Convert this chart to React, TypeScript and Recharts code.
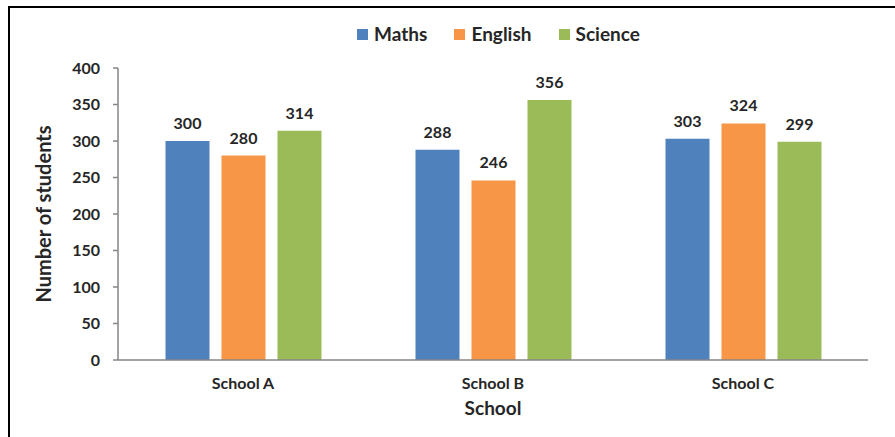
import { Bar, BarChart, LabelList, Legend, XAxis, YAxis } from "recharts";

const schools = ["School A", "School B", "School C"];
const maths = [300, 288, 303];
const english = [280, 246, 324];
const science = [314, 356, 299];
const yTicks = [0, 50, 100, 150, 200, 250, 300, 350, 400];

const data = schools.map((school, i) => ({
  school,
  Maths: maths[i],
  English: english[i],
  Science: science[i],
}));

const FONT = "Lato, 'Open Sans', sans-serif";
const TEXT = "#262626";
const AXIS = "#868686";

const series = [
  { key: "Maths", color: "#4F81BD" },
  { key: "English", color: "#F79646" },
  { key: "Science", color: "#9BBB59" },
];

// legend drawn in series order, Excel-like spacing
const renderLegend = () => (
  <div
    style={{
      display: "flex",
      justifyContent: "center",
      gap: 27,
      fontFamily: FONT,
      fontWeight: 700,
      fontSize: 19,
      color: TEXT,
      lineHeight: "24px",
      paddingLeft: 102,
    }}
  >
    {series.map((s) => (
      <span key={s.key} style={{ display: "flex", alignItems: "center" }}>
        <span
          style={{
            display: "inline-block",
            width: 11,
            height: 11,
            background: s.color,
            marginRight: 6,
          }}
        />
        {s.key}
      </span>
    ))}
  </div>
);

export default function App() {
  return (
    <div
      style={{
        position: "absolute",
        left: 0,
        top: 0,
        width: 895,
        height: 437,
        background: "#fff",
        overflow: "hidden",
        fontFamily: FONT,
      }}
    >
      <div
        style={{
          position: "absolute",
          left: 8,
          top: 6,
          width: 1000,
          height: 1000,
          borderLeft: "2px solid #000",
          borderTop: "2px solid #000",
        }}
      />
      <BarChart
        width={895}
        height={437}
        data={data}
        margin={{ top: 44, right: 27, bottom: 12, left: 20 }}
        barCategoryGap="19%"
        barGap={12}
        style={{ position: "absolute", left: 0, top: 0 }}
      >
        <Legend
          verticalAlign="top"
          align="center"
          content={renderLegend}
          wrapperStyle={{
            position: "absolute",
            top: 22,
            left: 0,
            width: 895,
            height: 24,
          }}
        />
        <XAxis
          dataKey="school"
          height={65}
          tickLine={false}
          tickMargin={12}
          axisLine={{ stroke: AXIS, strokeWidth: 1.5 }}
          tick={{ fill: TEXT, fontSize: 16, fontWeight: 700, fontFamily: FONT }}
          label={{
            value: "School",
            position: "insideBottom",
            offset: 10,
            fill: TEXT,
            fontSize: 19,
            fontWeight: 700,
            fontFamily: FONT,
          }}
        />
        <YAxis
          width={98}
          domain={[0, 400]}
          ticks={yTicks}
          interval={0}
          tickSize={5}
          tickMargin={13}
          axisLine={{ stroke: AXIS, strokeWidth: 1.5 }}
          tickLine={{ stroke: AXIS, strokeWidth: 1.5 }}
          tick={{ fill: TEXT, fontSize: 16, fontWeight: 700, fontFamily: FONT }}
          label={{
            value: "Number of students",
            angle: -90,
            position: "insideLeft",
            offset: 24,
            style: { textAnchor: "middle" },
            fill: TEXT,
            fontSize: 20,
            fontWeight: 700,
            fontFamily: FONT,
          }}
        />
        {series.map((s) => (
          <Bar key={s.key} dataKey={s.key} fill={s.color} isAnimationActive={false}>
            <LabelList
              dataKey={s.key}
              position="top"
              offset={12}
              fill={TEXT}
              fontSize={16}
              fontWeight={700}
              fontFamily={FONT}
            />
          </Bar>
        ))}
      </BarChart>
    </div>
  );
}
